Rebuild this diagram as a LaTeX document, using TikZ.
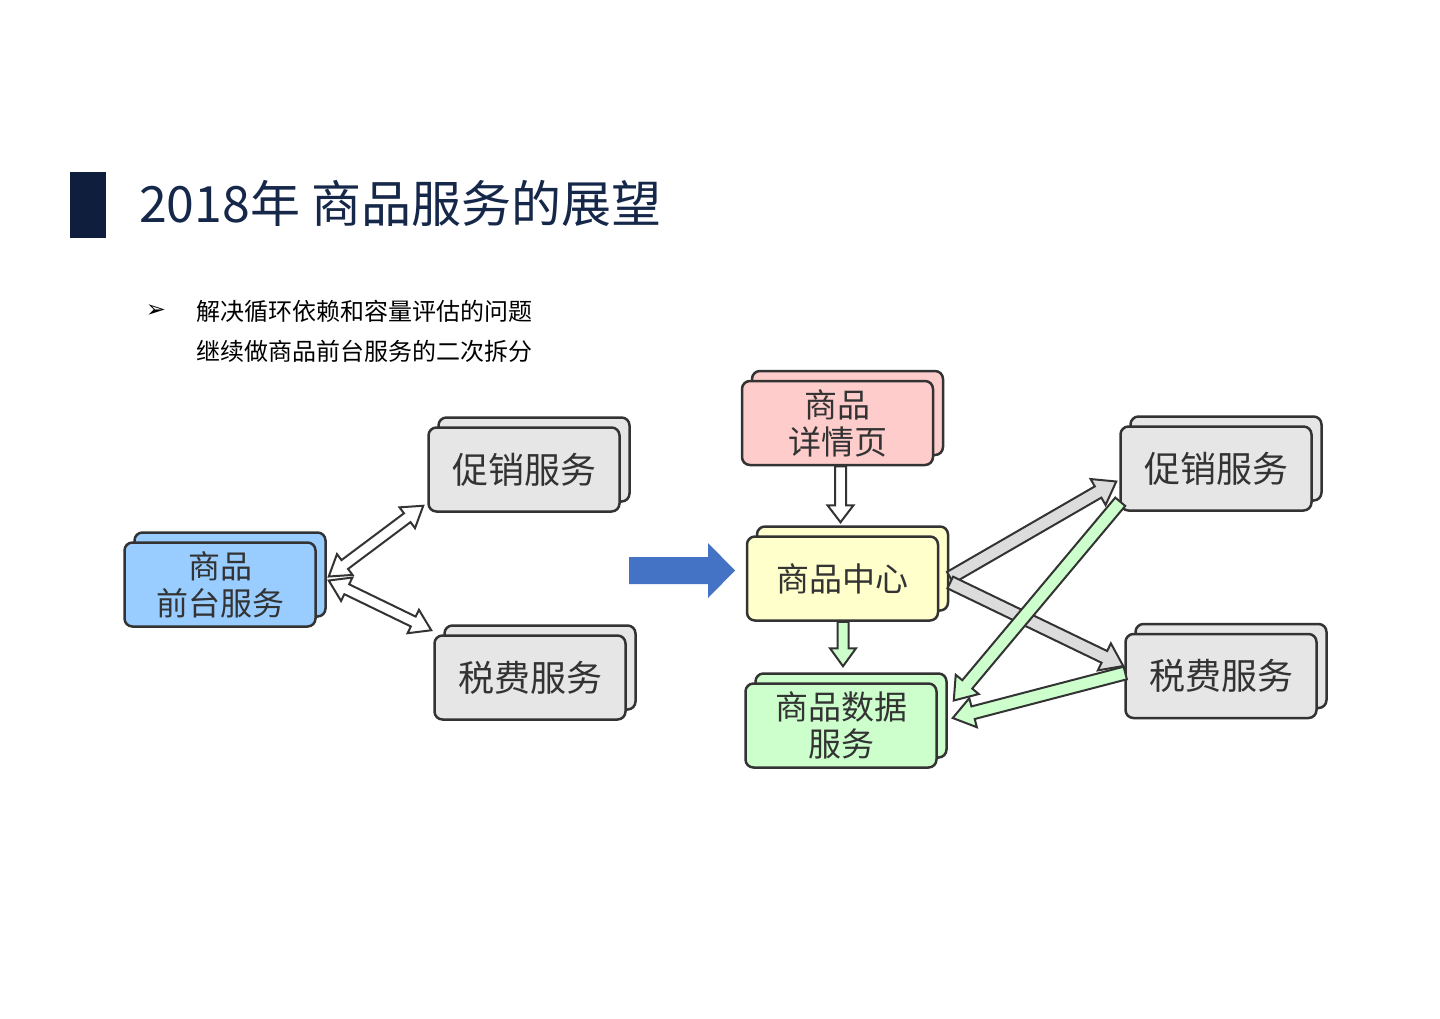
\documentclass[tikz,border=0pt]{standalone}
\usepackage{fontspec}
\setmainfont{Noto Sans CJK SC}
\newfontfamily\symfont{DejaVu Sans}
\usetikzlibrary{calc}
\definecolor{navy}{HTML}{0E1E3C}
\definecolor{titlecol}{HTML}{16284A}
\definecolor{edgecol}{HTML}{333333}
\definecolor{bluefill}{HTML}{99CCFF}
\definecolor{pinkfill}{HTML}{FFCCCC}
\definecolor{yellowfill}{HTML}{FFFFCC}
\definecolor{greenfill}{HTML}{CCFFCC}
\definecolor{greyfill}{HTML}{E6E6E6}
\definecolor{greyarrow}{HTML}{DCDCDC}
\definecolor{bigblue}{HTML}{4472C4}
\tikzset{
  svcbox/.style={draw=edgecol, line width=2.5pt, rounded corners=8pt, inner sep=0pt,
     minimum width=191pt, minimum height=84pt, align=center, text=edgecol},
  blockarr/.style={draw=edgecol, line width=2pt, line join=miter},
}
% single-headed block arrow: #1 style, #2 start, #3 tip, #4 shaft half width, #5 head half width, #6 head length
\newcommand\blockarrow[6]{%
  \path ($(#3)!#6pt!(#2)$) coordinate (hb);
  \draw[#1] ($(#2)!#4pt!90:(#3)$) -- ($(hb)!#4pt!90:(#3)$) -- ($(hb)!#5pt!90:(#3)$) -- (#3)
     -- ($(hb)!#5pt!-90:(#3)$) -- ($(hb)!#4pt!-90:(#3)$) -- ($(#2)!#4pt!-90:(#3)$) -- cycle;}
% double-headed block arrow
\newcommand\dblarrow[6]{%
  \path ($(#3)!#6pt!(#2)$) coordinate (hb) ($(#2)!#6pt!(#3)$) coordinate (ha);
  \draw[#1] (#2) -- ($(ha)!#5pt!90:(#3)$) -- ($(ha)!#4pt!90:(#3)$) -- ($(hb)!#4pt!90:(#3)$)
     -- ($(hb)!#5pt!90:(#3)$) -- (#3) -- ($(hb)!#5pt!-90:(#3)$) -- ($(hb)!#4pt!-90:(#3)$)
     -- ($(ha)!#4pt!-90:(#3)$) -- ($(ha)!#5pt!-90:(#3)$) -- cycle;}
% stacked box: #1 name, #2 position, #3 fill, #4 font size, #5 text
\newcommand\stackbox[5]{%
  \node[svcbox, fill=#3] (#1b) at ($(#2)+(10,-10)$) {};
  \node[svcbox, fill=#3, font=\fontsize{#4}{37}\selectfont] (#1) at (#2) {#5};}
\begin{document}
\begin{tikzpicture}[x=1pt,y=-1pt]
\useasboundingbox[fill=white] (0,0) rectangle (1440,1018);
% title
\fill[navy] (70,172) rectangle (106,238);
\node[anchor=base west, inner sep=0pt, text=titlecol, font=\fontsize{50}{56}\selectfont] (title) at (139,222) {2018年 商品服务的展望};
% bullet text
\node[anchor=center, inner sep=0pt, font=\symfont\fontsize{24}{28}\selectfont] (bullet) at (156,311) {➢};
\node[anchor=west, inner sep=0pt, font=\fontsize{24}{40}\selectfont] (line1) at (196,311) {解决循环依赖和容量评估的问题};
\node[anchor=west, inner sep=0pt, font=\fontsize{24}{40}\selectfont] (line2) at (196,351) {继续做商品前台服务的二次拆分};
% left boxes
\stackbox{fb}{220,584.5}{bluefill}{32}{商品\\前台服务}
\stackbox{promoL}{524,469.5}{greyfill}{36}{促销服务}
\stackbox{taxL}{530,677.5}{greyfill}{36}{税费服务}
% right boxes
\stackbox{detail}{837.5,423}{pinkfill}{33}{商品\\详情页}
\stackbox{center}{842.5,578.5}{yellowfill}{33}{商品中心}
\stackbox{data}{841,725.5}{greenfill}{33}{商品数据\\服务}
\stackbox{promoR}{1216,468.5}{greyfill}{36}{促销服务}
\stackbox{taxR}{1221,676}{greyfill}{36}{税费服务}
% left double arrows
\coordinate (l1s) at ($(fbb.east)+(2,2)$);
\coordinate (l1e) at ($(promoL.south west)+(-4,-7)$);
\coordinate (l2s) at ($(fbb.east)+(2,6)$);
\coordinate (l2e) at ($(taxL.north west)+(-2,-4)$);
\dblarrow{blockarr, fill=white}{l1s}{l1e}{5.5}{13}{20}
\dblarrow{blockarr, fill=white}{l2s}{l2e}{5.5}{13}{20}
% big blue arrow
\fill[bigblue] (629,557) -- (708,557) -- (708,543) -- (735,570.5) -- (708,598) -- (708,584) -- (629,584) -- cycle;
% detail -> center
\coordinate (d1s) at ($(detail.south)+(3,0)$);
\coordinate (d1e) at ($(d1s |- centerb.north)+(0,-3)$);
\blockarrow{blockarr, fill=white}{d1s}{d1e}{5.5}{13}{17}
% center -> data
\coordinate (c1s) at ($(center.south)+(0.5,0)$);
\coordinate (c1e) at ($(c1s |- datab.north)+(0,-6)$);
\blockarrow{blockarr, fill=greenfill}{c1s}{c1e}{5.5}{13}{18}
% center -> promoR, taxR
\coordinate (c2s) at ($(centerb.east)+(1,9)$);
\coordinate (c2e) at ($(promoR.west)+(-3,13)$);
\blockarrow{blockarr, fill=greyarrow}{c2s}{c2e}{6.5}{15}{21}
\coordinate (c3s) at ($(centerb.east)+(1,14)$);
\coordinate (c3e) at ($(taxR.west)+(-1,-10)$);
\blockarrow{blockarr, fill=greyarrow}{c3s}{c3e}{6.5}{15}{21}
% promoR, taxR -> data
\coordinate (p1s) at ($(promoR.south west)+(1,-10)$);
\coordinate (p1e) at ($(datab.east)+(6,-15)$);
\blockarrow{blockarr, fill=greenfill}{p1s}{p1e}{6.5}{15}{21}
\coordinate (t1s) at ($(taxR.west)+(1,-3)$);
\coordinate (t1e) at ($(datab.east)+(5,2.5)$);
\blockarrow{blockarr, fill=greenfill}{t1s}{t1e}{6.5}{15}{21}
\end{tikzpicture}
\end{document}
